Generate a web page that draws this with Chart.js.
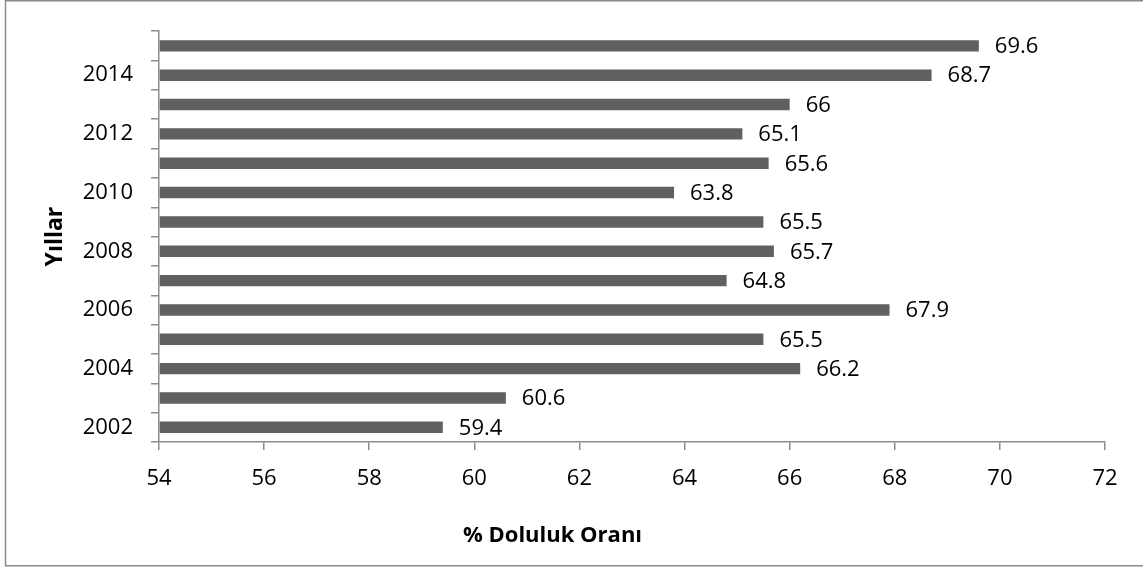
<!DOCTYPE html>
<html>
<head>
<meta charset="utf-8">
<title>Doluluk Oranı</title>
<script src="https://cdn.jsdelivr.net/npm/chart.js@4"></script>
<style>
  html, body { margin: 0; padding: 0; background: #ffffff; }
  #wrap { width: 1143px; height: 567px; }
</style>
</head>
<body>
<div id="wrap"><canvas id="chart" width="1143" height="567"></canvas></div>
<script>
// Occupancy rate by year
const years = [2002, 2003, 2004, 2005, 2006, 2007, 2008, 2009, 2010, 2011, 2012, 2013, 2014, 2015];
const occupancy = [59.4, 60.6, 66.2, 65.5, 67.9, 64.8, 65.7, 65.5, 63.8, 65.6, 65.1, 66, 68.7, 69.6];
const xTicks = [54, 56, 58, 60, 62, 64, 66, 68, 70, 72];

const xMin = xTicks[0];
const xMax = xTicks[xTicks.length - 1];
const axisGray = '#8c8c8c';
const barGray = '#606060';
const baseFont = 'Open Sans';

// White background and the outer frame (open on the right side)
const framePlugin = {
  id: 'frame',
  beforeDraw(chart) {
    const ctx = chart.ctx;
    ctx.save();
    ctx.fillStyle = '#ffffff';
    ctx.fillRect(0, 0, chart.width, chart.height);
    ctx.strokeStyle = '#8a8a8a';
    ctx.lineWidth = 1.5;
    ctx.strokeRect(5.5, 0.75, chart.width + 20, chart.height - 2);
    ctx.restore();
  }
};

// Value written after the end of each bar
const valueLabels = {
  id: 'valueLabels',
  afterDatasetsDraw(chart) {
    const ctx = chart.ctx;
    const meta = chart.getDatasetMeta(0);
    const data = chart.data.datasets[0].data;
    ctx.save();
    ctx.font = '22px "' + baseFont + '"';
    ctx.fillStyle = '#000000';
    ctx.textAlign = 'left';
    ctx.textBaseline = 'middle';
    meta.data.forEach((bar, i) => {
      ctx.fillText(String(data[i]), bar.x + 16, bar.y + 1);
    });
    ctx.restore();
  }
};

new Chart(document.getElementById('chart'), {
  type: 'bar',
  data: {
    labels: years.map(String),
    datasets: [{
      data: occupancy,
      base: xMin,
      backgroundColor: barGray,
      borderWidth: 0,
      categoryPercentage: 1.0,
      barPercentage: 0.39
    }]
  },
  options: {
    indexAxis: 'y',
    responsive: false,
    animation: false,
    devicePixelRatio: 1,
    layout: { padding: { left: 0, right: 38, top: 30, bottom: 0 } },
    plugins: {
      legend: { display: false },
      tooltip: { enabled: false },
      title: {
        display: true,
        position: 'bottom',
        text: '% Doluluk Oranı',
        color: '#000000',
        font: { family: baseFont, size: 22, weight: 'bold', lineHeight: 1.2 },
        padding: { top: 0, bottom: 18 }
      }
    },
    scales: {
      x: {
        type: 'linear',
        min: xMin,
        max: xMax,
        afterBuildTicks(scale) {
          scale.ticks = xTicks.map(v => ({ value: v }));
        },
        afterFit(scale) { scale.height = 80.6; },
        grid: {
          drawOnChartArea: false,
          drawTicks: true,
          tickLength: 8,
          color: axisGray,
          lineWidth: 1.5
        },
        border: { color: axisGray, width: 1.5 },
        ticks: {
          color: '#000000',
          font: { family: baseFont, size: 22 },
          padding: 16,
          maxRotation: 0
        }
      },
      y: {
        type: 'category',
        reverse: true,
        afterFit(scale) { scale.width = 159; },
        grid: {
          offset: true,
          drawOnChartArea: false,
          drawTicks: true,
          tickLength: 8,
          color: axisGray,
          lineWidth: 1.5
        },
        border: { color: axisGray, width: 1.5 },
        ticks: {
          autoSkip: false,
          color: '#000000',
          font: { family: baseFont, size: 22 },
          padding: 18,
          callback(value) {
            const y = years[value];
            return y % 2 === 0 ? String(y) : '';
          }
        },
        title: {
          display: true,
          text: 'Yıllar',
          color: '#000000',
          font: { family: baseFont, size: 23, weight: 'bold', lineHeight: 1.2 },
          padding: { top: 42, bottom: 0 }
        }
      }
    }
  },
  plugins: [framePlugin, valueLabels]
});
</script>
</body>
</html>
